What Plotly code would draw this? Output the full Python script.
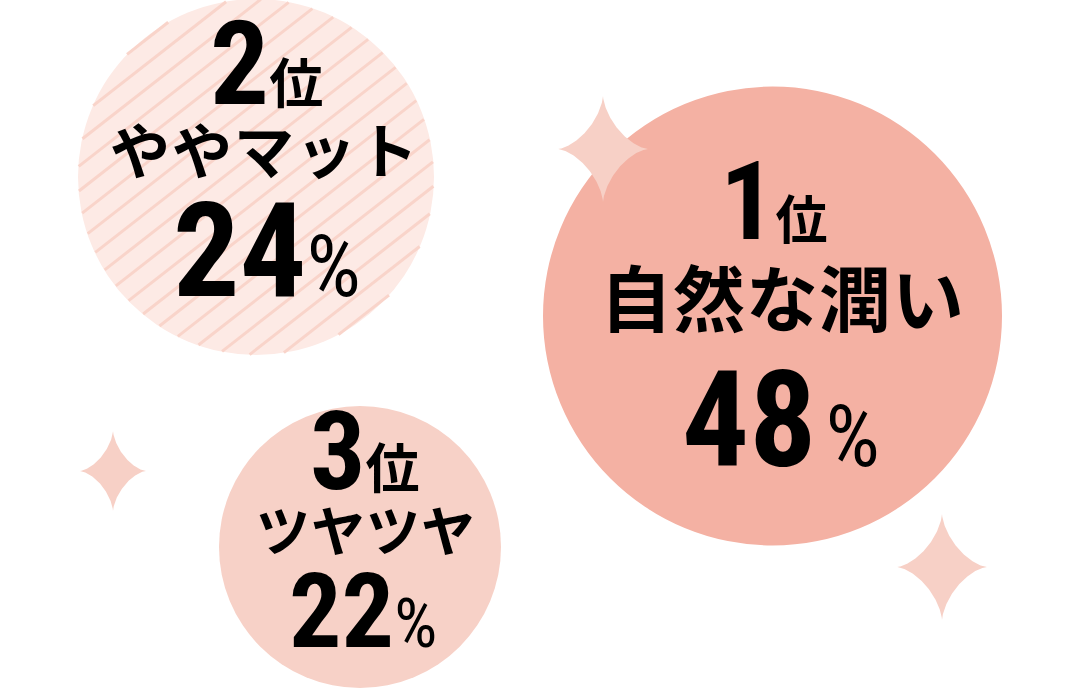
import numpy as np
import plotly.graph_objects as go

# ---- data ----
rank_nums = ["1", "2", "3"]
rank_suffix = "位"
labels = ["自然な潤い", "ややマット", "ツヤツヤ"]
percents = [48, 24, 22]

# ---- layout / style (not data) ----
W, H = 1080, 689
circ_cx = [772.5, 256, 360]
circ_cy = [316, 177, 547]
circ_r = [229.5, 178, 141]
circ_col = ["#F4B1A3", "#FDEAE5", "#F7D1C7"]
stripe_col = "#F9D4CA"
spark_col = "#F7D0C6"
spark_c = [(603, 149), (113, 471), (942, 567)]
spark_hw = [45, 33, 45]
spark_hh = [53, 40, 53]

fig = go.Figure()

# circles
for cx, cy, r, col in zip(circ_cx, circ_cy, circ_r, circ_col):
    fig.add_shape(type="circle", xref="x", yref="y", x0=cx - r, x1=cx + r,
                  y0=cy - r, y1=cy + r, fillcolor=col, line_width=0, layer="below")

# stripes on circle 2 (clipped analytically to the circle)
cx, cy, r = circ_cx[1], circ_cy[1], circ_r[1]
th = np.deg2rad(38)
d = np.array([np.cos(th), -np.sin(th)])
n = np.array([np.sin(th), np.cos(th)])
sp = 19.5
xs, ys = [], []
for t in np.arange(-r + 2, r - 1, sp):
    half = np.sqrt(max(r * r - t * t, 0)) - 0.5
    p0 = np.array([cx, cy]) + n * t - d * half
    p1 = np.array([cx, cy]) + n * t + d * half
    xs += [p0[0], p1[0], None]
    ys += [p0[1], p1[1], None]
fig.add_trace(go.Scatter(x=xs, y=ys, mode="lines", line=dict(color=stripe_col, width=3),
                         hoverinfo="skip", showlegend=False))

# sparkles (astroid-like four-point stars)
tt = np.linspace(0, 2 * np.pi, 400)
for (sx, sy), hw, hh in zip(spark_c, spark_hw, spark_hh):
    c, s = np.cos(tt), np.sin(tt)
    px = sx + hw * np.sign(c) * np.abs(c) ** 3
    py = sy + hh * np.sign(s) * np.abs(s) ** 3
    fig.add_trace(go.Scatter(x=px, y=py, mode="lines", fill="toself", fillcolor=spark_col,
                             line=dict(width=0, color=spark_col), hoverinfo="skip",
                             showlegend=False))

CJK = "Noto Sans CJK JP"
NUM = "Roboto"
COND = "font-stretch:condensed"


def txt(x, y, s, size, family):
    fig.add_annotation(x=x, y=y, xref="x", yref="y", text=s, showarrow=False,
                       xanchor="center", yanchor="middle",
                       font=dict(family=family, size=size, color="#000000", weight="bold"))


# rank rows: number + 位
rank_xy = [(774, 201), (266, 64), (365, 451)]
rank_num_size = [110, 117, 110]
rank_i_size = [52, 54, 54]
for i in range(3):
    s = (f"<span style='{COND}'>{rank_nums[i]}</span>"
         f"<span style='font-family:{CJK};font-size:{rank_i_size[i]}px'>{rank_suffix}</span>")
    txt(rank_xy[i][0], rank_xy[i][1], s, rank_num_size[i], NUM)

# label rows
label_xy = [(782, 294), (265, 147), (366, 528)]
label_size = [72, 60, 54]
label_ls = [1, 2, 1]
for i in range(3):
    s = f"<span style='letter-spacing:{label_ls[i]}px'>{labels[i]}</span>"
    txt(label_xy[i][0], label_xy[i][1], s, label_size[i], CJK)

# percentage rows
pct_xy = [(781, 420), (267, 251), (363, 611)]
pnum_size = [133, 132, 104]
psign_size = [86, 86, 68]
pct_gap = ["\u200a", "", ""]
for i in range(3):
    s = (f"<span style='{COND}'>{percents[i]}</span>"
         f"<span style='{COND};font-weight:400;font-size:{psign_size[i]}px'>{pct_gap[i]}%</span>")
    txt(pct_xy[i][0], pct_xy[i][1], s, pnum_size[i], NUM)

fig.update_layout(width=W, height=H, margin=dict(l=0, r=0, t=0, b=0),
                  paper_bgcolor="white", plot_bgcolor="white", showlegend=False,
                  xaxis=dict(range=[0, W], visible=False, fixedrange=True),
                  yaxis=dict(range=[H, 0], visible=False, fixedrange=True))
fig.write_html("out.html", config={"displayModeBar": False},
               post_script="document.body.style.margin='0px';")
